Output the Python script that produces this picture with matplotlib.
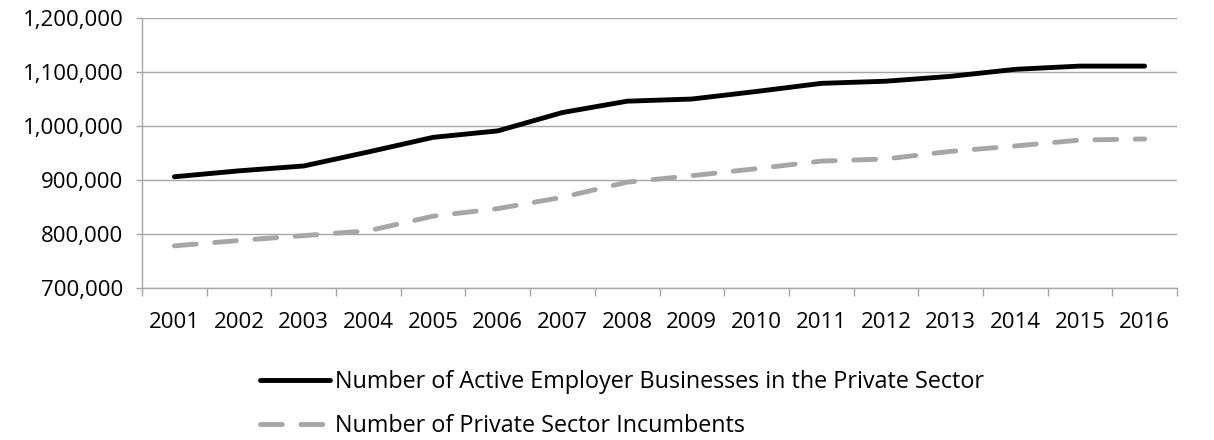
import matplotlib
matplotlib.use("Agg")
import matplotlib.pyplot as plt
from matplotlib.ticker import FuncFormatter, MultipleLocator

plt.rcParams['font.family'] = ['Open Sans', 'DejaVu Sans']

years = [2001, 2002, 2003, 2004, 2005, 2006, 2007, 2008,
         2009, 2010, 2011, 2012, 2013, 2014, 2015, 2016]
active = [906000, 917000, 926000, 952000, 979000, 991000, 1025000, 1046000,
          1050000, 1064000, 1079000, 1083000, 1092000, 1105000, 1111000, 1111000]
incumbents = [778000, 788000, 797000, 806000, 833000, 847000, 868000, 896000,
              908000, 921000, 935000, 939000, 953000, 963000, 974000, 976000]

fig = plt.figure(figsize=(12.14, 4.4), dpi=100)
ax = fig.add_axes([0.117, 0.3455, 0.8525, 0.6135])

x = list(range(len(years)))
ax.plot(x, active, color='black', lw=3.5, solid_capstyle='round',
        label='Number of Active Employer Businesses in the Private Sector')
ax.plot(x, incumbents, color='#a6a6a6', lw=3.5, dashes=(4.5, 3.8),
        dash_capstyle='round', label='Number of Private Sector Incumbents')

ax.set_xlim(-0.5, len(years) - 0.5)
ax.set_ylim(700000, 1200000)
ax.yaxis.set_major_locator(MultipleLocator(100000))
ax.yaxis.set_major_formatter(FuncFormatter(lambda v, p: f'{int(v):,}'))
ax.grid(axis='y', color='#a6a6a6', lw=1)
ax.set_axisbelow(True)

ax.set_xticks(x)
ax.set_xticklabels([str(y) for y in years])
ax.set_xticks([i - 0.5 for i in range(len(years) + 1)], minor=True)
ax.tick_params(axis='x', which='major', length=0, pad=17, labelsize=16)
ax.tick_params(axis='x', which='minor', length=5.5, color='#a6a6a6', width=1)
ax.tick_params(axis='y', length=4.5, color='#a6a6a6', width=1, pad=9, labelsize=16)

for s in ['top', 'right']:
    ax.spines[s].set_visible(False)
for s in ['left', 'bottom']:
    ax.spines[s].set_color('#a6a6a6')
    ax.spines[s].set_linewidth(1)

fig.legend(loc='center left', bbox_to_anchor=(0.197, 0.082), ncol=1, frameon=False,
           fontsize=16.8, handlelength=3.0, handletextpad=0.2, labelspacing=0.85)

fig.savefig('out.png', dpi=100)
